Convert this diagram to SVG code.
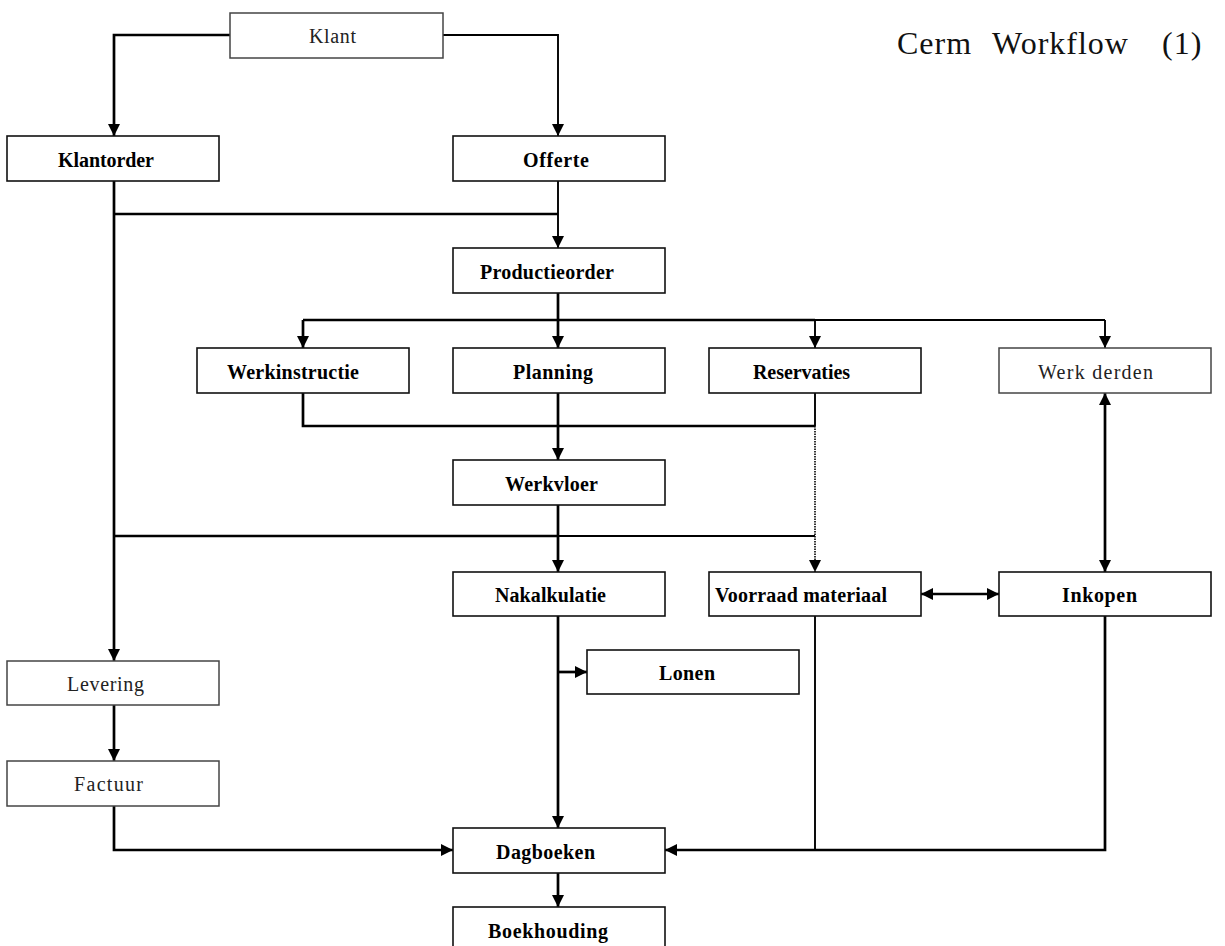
<svg xmlns="http://www.w3.org/2000/svg" width="1225" height="946" viewBox="0 0 1225 946">
<style>
.box{fill:#fff;stroke:#111;stroke-width:1.6}
.lbox{fill:#fff;stroke:#444;stroke-width:1.5}
.t{font-family:"Liberation Serif","Times New Roman",serif;font-size:20px;font-weight:bold;fill:#000}
.tl{font-family:"Liberation Serif","Times New Roman",serif;font-size:20px;fill:#222}
.title{font-family:"Liberation Serif","Times New Roman",serif;font-size:32px;fill:#111;letter-spacing:1px}
.c{fill:none;stroke:#000;stroke-width:2.7}
.cn{fill:none;stroke:#000;stroke-width:1.9}
.cd{fill:none;stroke:#000;stroke-width:1.6;stroke-dasharray:1.5 1}
</style>
<defs>
<marker id="ah" markerUnits="userSpaceOnUse" markerWidth="12" markerHeight="12" refX="11" refY="5.5" orient="auto-start-reverse" viewBox="0 0 11 11">
<path d="M0,0 L11,5.5 L0,11 z" fill="#000"/>
</marker>
</defs>
<rect width="1225" height="946" fill="#fff"/>
<text class="title" y="54"><tspan x="897">Cerm</tspan><tspan x="992">Workflow</tspan><tspan x="1162">(1)</tspan></text>
<g id="connectors">
<path class="c" d="M230,35 H114 V136" marker-end="url(#ah)"/>
<path class="cn" d="M443,35 H558 V136" marker-end="url(#ah)"/>
<path class="c" d="M114,181 V661" marker-end="url(#ah)"/>
<path class="c" d="M114,214 H558"/>
<path class="cn" d="M558,181 V248" marker-end="url(#ah)"/>
<path class="c" d="M558,293 V348" marker-end="url(#ah)"/>
<path class="c" d="M303,320 H815"/>
<path class="cn" d="M815,320 H1105"/>
<path class="c" d="M303,320 V348" marker-end="url(#ah)"/>
<path class="cn" d="M815,320 V348" marker-end="url(#ah)"/>
<path class="cn" d="M1105,320 V348" marker-end="url(#ah)"/>
<path class="c" d="M303,393 V426 H815"/>
<path class="cn" d="M815,393 V426"/>
<path class="cd" d="M815,426 V572" marker-end="url(#ah)"/>
<path class="c" d="M558,393 V460" marker-end="url(#ah)"/>
<path class="c" d="M558,505 V572" marker-end="url(#ah)"/>
<path class="c" d="M114,536 H558"/>
<path class="cn" d="M558,536 H815"/>
<path class="c" d="M1105,393 V572" marker-start="url(#ah)" marker-end="url(#ah)"/>
<path class="c" d="M921,594 H999" marker-start="url(#ah)" marker-end="url(#ah)"/>
<path class="c" d="M558,616 V828" marker-end="url(#ah)"/>
<path class="c" d="M558,672 H587" marker-end="url(#ah)"/>
<path class="c" d="M114,705 V761" marker-end="url(#ah)"/>
<path class="c" d="M114,806 V850 H453" marker-end="url(#ah)"/>
<path class="cn" d="M815,616 V850"/>
<path class="c" d="M1105,616 V850 H665" marker-end="url(#ah)"/>
<path class="c" d="M558,873 V907" marker-end="url(#ah)"/>
</g>
<g id="klant"><rect class="lbox" x="230" y="13" width="213" height="45"/><text class="tl" x="309" y="43" textLength="47">Klant</text></g>
<g id="klantorder"><rect class="box" x="7" y="136" width="212" height="45"/><text class="t" x="58" y="167" textLength="96">Klantorder</text></g>
<g id="offerte"><rect class="box" x="453" y="136" width="212" height="45"/><text class="t" x="523" y="167" textLength="66">Offerte</text></g>
<g id="productieorder"><rect class="box" x="453" y="248" width="212" height="45"/><text class="t" x="480" y="279" textLength="134">Productieorder</text></g>
<g id="werkinstructie"><rect class="box" x="197" y="348" width="212" height="45"/><text class="t" x="227" y="379" textLength="132">Werkinstructie</text></g>
<g id="planning"><rect class="box" x="453" y="348" width="212" height="45"/><text class="t" x="513" y="379" textLength="80">Planning</text></g>
<g id="reservaties"><rect class="box" x="709" y="348" width="212" height="45"/><text class="t" x="753" y="379" textLength="97">Reservaties</text></g>
<g id="werk-derden"><rect class="lbox" x="999" y="348" width="212" height="45"/><text class="tl" x="1038" y="379" textLength="115">Werk derden</text></g>
<g id="werkvloer"><rect class="box" x="453" y="460" width="212" height="45"/><text class="t" x="505" y="491" textLength="93">Werkvloer</text></g>
<g id="nakalkulatie"><rect class="box" x="453" y="572" width="212" height="44"/><text class="t" x="495" y="602" textLength="111">Nakalkulatie</text></g>
<g id="voorraad-materiaal"><rect class="box" x="709" y="572" width="212" height="44"/><text class="t" x="715" y="602" textLength="172">Voorraad materiaal</text></g>
<g id="inkopen"><rect class="box" x="999" y="572" width="212" height="44"/><text class="t" x="1062" y="602" textLength="75">Inkopen</text></g>
<g id="lonen"><rect class="box" x="587" y="650" width="212" height="44"/><text class="t" x="659" y="680" textLength="56">Lonen</text></g>
<g id="levering"><rect class="lbox" x="7" y="661" width="212" height="44"/><text class="tl" x="67" y="691" textLength="77">Levering</text></g>
<g id="factuur"><rect class="lbox" x="7" y="761" width="212" height="45"/><text class="tl" x="74" y="791" textLength="69">Factuur</text></g>
<g id="dagboeken"><rect class="box" x="453" y="828" width="212" height="45"/><text class="t" x="496" y="859" textLength="99">Dagboeken</text></g>
<g id="boekhouding"><rect class="box" x="453" y="907" width="212" height="45"/><text class="t" x="488" y="938" textLength="120">Boekhouding</text></g>
</svg>
